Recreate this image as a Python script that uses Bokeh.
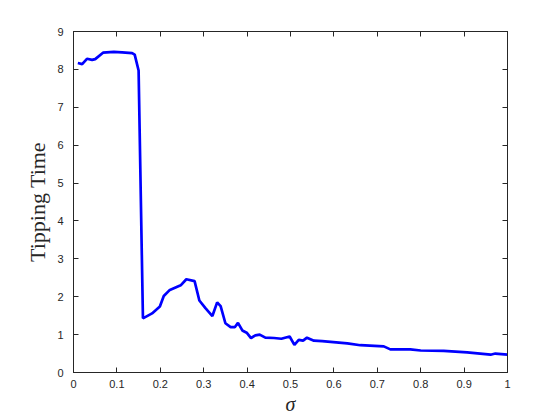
from bokeh.plotting import figure
from bokeh.models import LinearAxis, Range1d, FixedTicker
from bokeh.embed import file_html
from bokeh.resources import INLINE

# data
sigma = [0.01, 0.02, 0.031, 0.043, 0.05, 0.068, 0.093, 0.112, 0.135, 0.141, 0.15,
         0.16, 0.181, 0.199, 0.208, 0.222, 0.247, 0.26, 0.279, 0.29, 0.304, 0.32,
         0.331, 0.339, 0.35, 0.362, 0.372, 0.379, 0.389, 0.399, 0.409, 0.419, 0.429,
         0.442, 0.462, 0.479, 0.498, 0.509, 0.519, 0.529, 0.538, 0.554, 0.573, 0.631,
         0.661, 0.715, 0.73, 0.776, 0.80, 0.853, 0.907, 0.961, 0.972, 1.0]
tipping_time = [8.17, 8.14, 8.28, 8.25, 8.27, 8.44, 8.46, 8.45, 8.43, 8.39, 7.97,
                1.43, 1.56, 1.74, 2.02, 2.18, 2.30, 2.46, 2.41, 1.90, 1.70, 1.49,
                1.85, 1.75, 1.30, 1.20, 1.20, 1.31, 1.11, 1.05, 0.91, 0.98, 1.00,
                0.92, 0.91, 0.89, 0.95, 0.73, 0.86, 0.84, 0.92, 0.84, 0.83, 0.77,
                0.72, 0.69, 0.61, 0.61, 0.58, 0.57, 0.53, 0.47, 0.50, 0.47]

x_ticks = [0, 0.1, 0.2, 0.3, 0.4, 0.5, 0.6, 0.7, 0.8, 0.9, 1.0]
x_tick_labels = ["0", "0.1", "0.2", "0.3", "0.4", "0.5", "0.6", "0.7", "0.8", "0.9", "1"]
y_ticks = [0, 1, 2, 3, 4, 5, 6, 7, 8, 9]
y_tick_labels = ["0", "1", "2", "3", "4", "5", "6", "7", "8", "9"]

AX = "#262626"

p = figure(width=560, height=420, output_backend="svg", toolbar_location=None,
           x_range=Range1d(0, 1), y_range=Range1d(0, 9),
           min_border_left=73, min_border_right=53, min_border_top=31, min_border_bottom=48,
           background_fill_color="white", border_fill_color="white")
p.xgrid.visible = False
p.ygrid.visible = False
p.outline_line_color = AX
p.outline_line_width = 1

p.line(sigma, tipping_time, line_color="#0000ff", line_width=2.7)

def style(ax, ticks, labels, show):
    ax.ticker = FixedTicker(ticks=ticks)
    ax.major_label_overrides = {t: (l if show else "") for t, l in zip(ticks, labels)}
    ax.major_tick_in = 5
    ax.major_tick_out = 0
    ax.minor_tick_line_color = None
    ax.axis_line_color = AX
    ax.major_tick_line_color = AX
    ax.major_label_text_color = AX
    ax.major_label_text_font = "Liberation Sans"
    ax.major_label_text_font_size = "11px" if show else "0px"

xa = p.xaxis[0]
style(xa, x_ticks, x_tick_labels, True)
xa.major_label_standoff = 7
xa.axis_label = "σ"
xa.axis_label_text_font = "Liberation Serif"
xa.axis_label_text_font_style = "italic"
xa.axis_label_text_font_size = "20px"
xa.axis_label_text_color = AX
xa.axis_label_standoff = 2

ya = p.yaxis[0]
style(ya, y_ticks, y_tick_labels, True)
ya.major_label_standoff = 10
ya.axis_label = "Tipping Time"
ya.axis_label_text_font = "Liberation Serif"
ya.axis_label_text_font_style = "normal"
ya.axis_label_text_font_size = "22px"
ya.axis_label_text_color = AX
ya.axis_label_standoff = 4

top = LinearAxis()
style(top, x_ticks, x_tick_labels, False)
p.add_layout(top, "above")
right = LinearAxis()
style(right, y_ticks, y_tick_labels, False)
p.add_layout(right, "right")

open("out.html", "w").write(file_html(p, INLINE))
